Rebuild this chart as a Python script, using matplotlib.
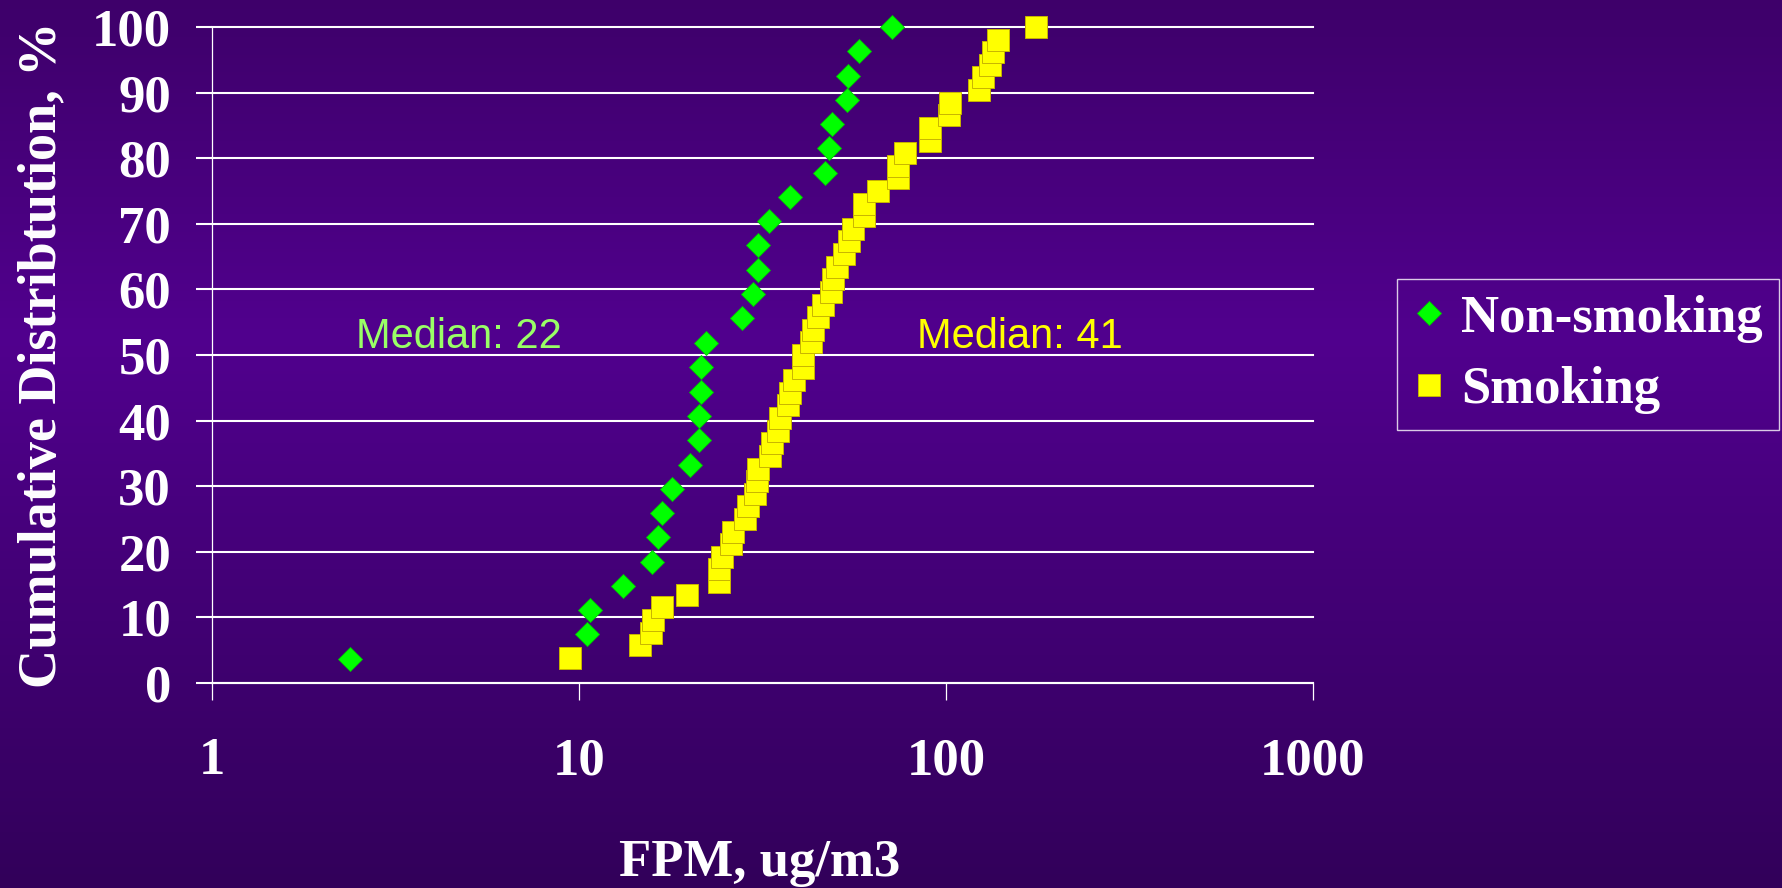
import numpy as np
import matplotlib
matplotlib.use("Agg")
import matplotlib.pyplot as plt
from matplotlib.colors import LinearSegmentedColormap

plt.rcParams['font.family'] = ['Liberation Serif', 'DejaVu Serif']
plt.rcParams['font.weight'] = 'bold'

# FPM (ug/m3), sorted
nonsmoking_fpm = [2.37, 10.5, 10.7, 13.2, 15.8, 16.4, 16.8, 17.9, 20.1, 21.2,
                  21.2, 21.5, 21.5, 22.2, 27.8, 29.7, 30.8, 30.8, 33.0, 37.6,
                  46.8, 47.9, 48.9, 53.7, 54.2, 58.0, 71.1]
nonsmoking_pct = [3.7, 7.4, 11.1, 14.8, 18.5, 22.2, 25.9, 29.6, 33.3, 37.0,
                  40.7, 44.4, 48.1, 51.9, 55.6, 59.3, 63.0, 66.7, 70.4, 74.1,
                  77.8, 81.5, 85.2, 88.9, 92.6, 96.3, 100.0]

smoking_fpm = [9.45, 14.7, 15.7, 15.9, 16.8, 19.7, 24.1, 24.1, 24.5, 26.0,
               26.3, 28.4, 28.8, 30.1, 30.5, 30.8, 33.2, 33.6, 34.8, 35.2,
               37.2, 37.6, 38.5, 40.7, 40.7, 42.8, 43.3, 44.9, 46.1, 48.6,
               49.1, 50.4, 52.7, 54.5, 55.7, 59.7, 59.7, 65.4, 73.9, 73.9,
               77.3, 90.6, 90.6, 101.6, 102.6, 122.8, 126.0, 132.0, 134.0, 139.0,
               176.0]
smoking_pct = [3.85, 5.77, 7.69, 9.62, 11.54, 13.46, 15.38, 17.31, 19.23, 21.15,
               23.08, 25.0, 26.92, 28.85, 30.77, 32.69, 34.62, 36.54, 38.46, 40.38,
               42.31, 44.23, 46.15, 48.08, 50.0, 51.92, 53.85, 55.77, 57.69, 59.62,
               61.54, 63.46, 65.38, 67.31, 69.23, 71.15, 73.08, 75.0, 76.92, 78.85,
               80.77, 82.69, 84.62, 86.54, 88.46, 90.38, 92.31, 94.23, 96.15, 98.08,
               100.0]

x_ticks = [1, 10, 100, 1000]
y_ticks = list(range(0, 101, 10))

fig = plt.figure(figsize=(17.82, 8.88), dpi=100)

# purple vertical gradient background
bg = fig.add_axes([0, 0, 1, 1], zorder=0)
cmap = LinearSegmentedColormap.from_list(
    'bg', [(0.0, '#3e006a'), (0.38, '#51008e'), (1.0, '#32005a')])
grad = np.linspace(0, 1, 256).reshape(-1, 1)
bg.imshow(grad, aspect='auto', cmap=cmap, extent=[0, 1, 0, 1], origin='upper')
bg.axis('off')

ax = fig.add_axes([212/1782, 1 - 683/888, (1313 - 212)/1782, (683 - 27)/888], zorder=1)
ax.patch.set_alpha(0)

ax.plot(nonsmoking_fpm, nonsmoking_pct, linestyle='none', marker='D', ms=12,
        color='#00ff00', mec='#00c800', mew=0.6, clip_on=False, zorder=3,
        label='Non-smoking')
ax.plot(smoking_fpm, smoking_pct, linestyle='none', marker='s', ms=15.5,
        color='#ffff00', mec='#c8b400', mew=0.7, clip_on=False, zorder=4,
        label='Smoking')

ax.set_xscale('log')
ax.set_xlim(1, 1000)
ax.set_ylim(0, 100)
ax.set_xticks(x_ticks)
ax.set_xticklabels([str(t) for t in x_ticks])
ax.xaxis.set_minor_locator(matplotlib.ticker.NullLocator())
ax.set_yticks(y_ticks)

ax.set_axisbelow(True)
ax.yaxis.grid(True, color='white', lw=1.5)
for gl in ax.yaxis.get_gridlines():
    gl.set_clip_on(False)

for s in ['top', 'right']:
    ax.spines[s].set_visible(False)
ax.spines['left'].set_color('white')
ax.spines['left'].set_linewidth(0.9)
ax.spines['bottom'].set_color('white')
ax.spines['bottom'].set_linewidth(1.5)

ax.tick_params(axis='y', length=11.5, width=1.5, color='white', pad=18,
               labelsize=38, labelcolor='white')
ax.tick_params(axis='x', length=12, width=0.9, color='white', pad=27,
               labelsize=38, labelcolor='white')

ax.text(2.47, 51.1, 'Median: 22', family='Liberation Sans', weight='normal',
        fontsize=30, color='#99ff66', ha='left', va='baseline')
ax.text(83.4, 51.1, 'Median: 41', family='Liberation Sans', weight='normal',
        fontsize=30, color='#ffff00', ha='left', va='baseline')

fig.text(760/1782, 1 - 876/888, 'FPM, ug/m3', fontsize=38, color='white',
         ha='center', va='baseline')
fig.text(42/1782, 1 - 355/888, 'Cumulative Distribtution, %', fontsize=39,
         color='white', rotation=90, ha='center', va='center')

leg = fig.legend(loc='center left', bbox_to_anchor=(1397/1782, 1 - 354.5/888),
                 frameon=True, fancybox=False, edgecolor='white', facecolor='none',
                 prop={'size': 38, 'weight': 'bold'}, labelcolor='white',
                 handlelength=0.6, handletextpad=0.32, borderpad=0.3,
                 labelspacing=0.45, borderaxespad=0)
leg.get_frame().set_linewidth(1.0)
leg.set_zorder(5)

fig.savefig('out.png', dpi=100)
